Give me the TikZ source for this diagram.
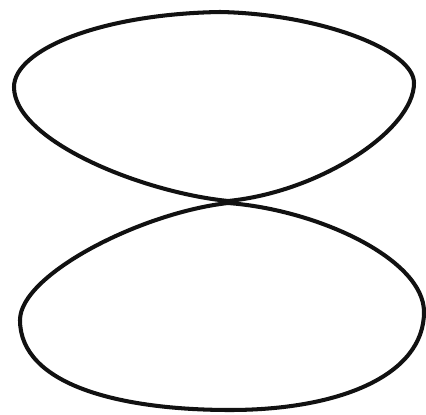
\documentclass[tikz,border=0pt]{standalone}
\usepackage{xcolor}
\usepackage{tikz}
\definecolor{LobeInk}{HTML}{111111}
\definecolor{LobePaper}{HTML}{FFFFFF}

\begin{document}
\begin{tikzpicture}[x=0.02cm,y=-0.02cm]
\path[use as bounding box] (0,0) rectangle (426,415);
\fill[LobePaper] (0,0) rectangle (426,415);
% upper lobe
\draw[LobeInk,line width=2.3pt,line join=round]
  (228,201) .. controls (140,192) and (14,140) .. (14,87)
  .. controls (14,50) and (100,14) .. (220,12)
  .. controls (320,14) and (414,50) .. (414,83)
  .. controls (414,130) and (320,192) .. (228,201) -- cycle;
% lower lobe
\draw[LobeInk,line width=2.3pt,line join=round]
  (228,203) .. controls (140,213) and (20,275) .. (20,320)
  .. controls (20,385) and (120,410) .. (230,410)
  .. controls (340,410) and (424,375) .. (424,312)
  .. controls (424,260) and (320,210) .. (228,203) -- cycle;
\end{tikzpicture}
\end{document}
